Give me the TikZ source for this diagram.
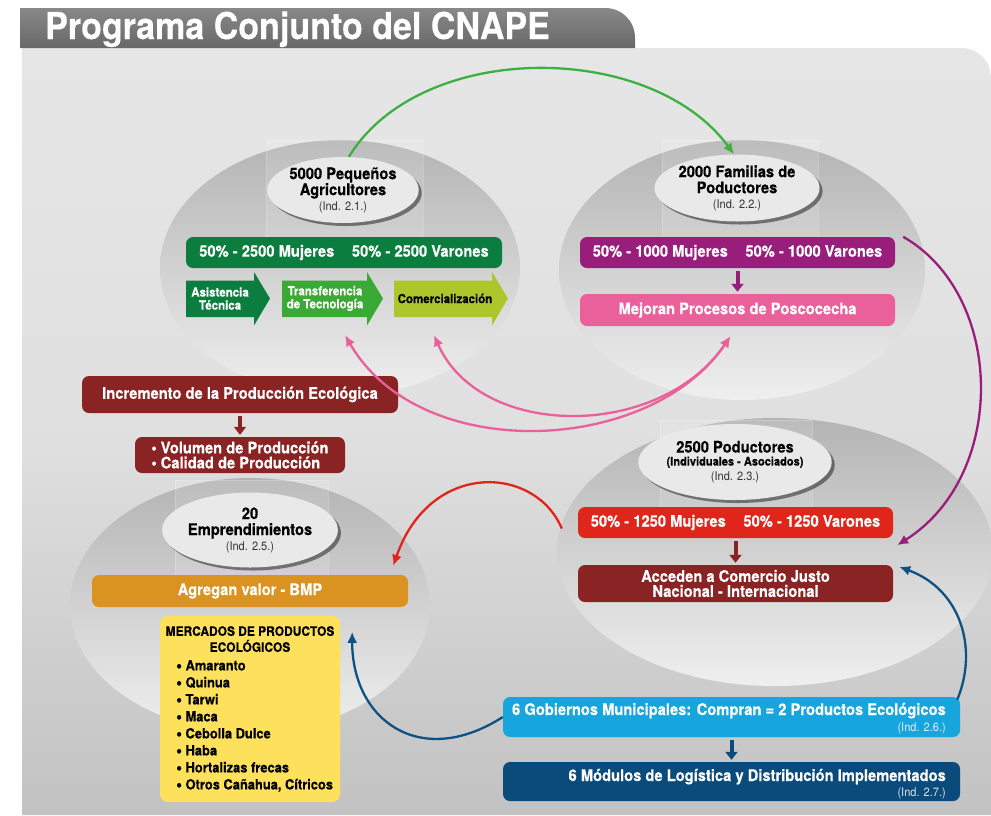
\documentclass[tikz,border=0pt]{standalone}
\usepackage{fontspec}
\setmainfont{TeX Gyre Heros}[FakeStretch=0.92, BoldFeatures={FakeBold=0.3}]
\usetikzlibrary{arrows.meta,shadows,shapes.geometric}
\definecolor{cGreenD}{HTML}{0B7D3E}
\definecolor{cGreenM}{HTML}{3BA935}
\definecolor{cLime}{HTML}{ADC62B}
\definecolor{cPurple}{HTML}{991E7C}
\definecolor{cPink}{HTML}{E9609A}
\definecolor{cDRed}{HTML}{8A2323}
\definecolor{cRed}{HTML}{E0261B}
\definecolor{cOrange}{HTML}{DA9220}
\definecolor{cYellow}{HTML}{FDE15C}
\definecolor{cLBlue}{HTML}{16A5DD}
\definecolor{cDBlue}{HTML}{0A4B7B}
\definecolor{cArcGreen}{HTML}{3DB042}
\definecolor{cArcBlue}{HTML}{0D5283}
\definecolor{cBubble}{HTML}{E9E9E9}
\definecolor{cInd}{HTML}{333333}
\definecolor{cTabTop}{HTML}{888888}
\definecolor{cTabBot}{HTML}{686868}
\definecolor{cPanTop}{HTML}{E6E6E6}
\definecolor{cPanMid}{HTML}{E0E0E0}
\definecolor{cPanBot}{HTML}{C2C2C2}
\definecolor{cEllTop}{HTML}{B4B4B4}
\definecolor{cEllBot}{HTML}{EFEFEF}
\newcommand\indf{\mdseries\fontsize{12}{13}\selectfont}
\newcommand\bul{{\fontsize{18}{15}\selectfont\raisebox{-1.3pt}{•}}}
\begin{document}
\begin{tikzpicture}[x=1pt,y=-1pt,
  box/.style={rounded corners=7pt, inner sep=0pt, align=center, text=white,
    font=\bfseries\fontsize{16}{15}\selectfont},
  btext/.style={inner sep=0pt, text=white, font=\bfseries\fontsize{16}{15}\selectfont},
  itext/.style={inner sep=0pt, font=\indf},
  bubble/.style={ellipse, fill=cBubble, inner sep=0pt, align=center,
    font=\bfseries\fontsize{16}{16}\selectfont,
    drop shadow={shadow xshift=3pt, shadow yshift=-3pt, opacity=0.45, fill=black}},
  bigell/.style={top color=cEllTop, bottom color=cEllBot},
  faint/.style={fill=white, fill opacity=0.12, draw=white, draw opacity=0.2, line width=0.4pt},
  arrlabel/.style={inner sep=0pt, align=center, font=\bfseries\fontsize{12.5}{13}\selectfont},
  arc/.style={line width=2.3pt, -{Latex[length=11pt,width=10pt]}},
  dbarc/.style={line width=2.3pt, {Latex[length=11pt,width=10pt]}-{Latex[length=11pt,width=10pt]}},
  dn/.style={line width=4pt, -{Triangle[length=8pt,width=12pt]}, shorten <=3pt, shorten >=2pt}
]
\useasboundingbox (0,0) rectangle (991,815);
% panel and title tab
\path[top color=cPanTop, bottom color=cPanBot, middle color=cPanMid]
  (22,815) -- (22,48) -- (961,48) .. controls (978,48) and (991,61) .. (991,78) -- (991,815) -- cycle;
\path[top color=cTabTop, bottom color=cTabBot]
  (20,48) -- (20,8) -- (605,8) .. controls (622,8) and (635,21) .. (635,38) -- (635,48) -- cycle;
\node[anchor=base west, inner sep=0pt, text=white, font=\bfseries\fontsize{37}{40}\selectfont] (title) at (45,39) {Programa Conjunto del CNAPE};

% big ellipses
\path[bigell] (340,268) ellipse [x radius=180, y radius=128];
\path[bigell] (742,270) ellipse [x radius=183, y radius=130];
\path[bigell] (775,552) ellipse [x radius=218, y radius=134];
\path[bigell] (250,605) ellipse [x radius=180, y radius=127];
\path[faint] (266,140) rectangle (423,237);
\path[faint] (662,140) rectangle (818,237);
\path[faint] (660,420) rectangle (812,507);
\path[faint] (175,480) rectangle (328,575);

% bubbles
\node[bubble, minimum width=146pt, minimum height=66pt] (b1) at (343,190)
  {5000 Pequeños\\Agricultores\\[-1pt]{\indf\color{cInd}(Ind. 2.1.)}};
\node[bubble, minimum width=145pt, minimum height=67pt] (b2) at (737,188)
  {2000 Familias de\\Poductores\\[-1pt]{\indf\color{cInd}(Ind. 2.2.)}};
\node[bubble, minimum width=144pt, minimum height=76pt] (b3) at (735,462)
  {2500 Poductores\\[-3pt]{\fontsize{12}{12}\selectfont (Individuales - Asociados)}\\[-1pt]{\indf\color{cInd}(Ind. 2.3.)}};
\node[bubble, minimum width=146pt, minimum height=75pt] (b4) at (250,530)
  {20\\Emprendimientos\\[-1pt]{\indf\color{cInd}(Ind. 2.5.)}};

% top-left group
\node[box, fill=cGreenD, minimum width=316pt, minimum height=31pt] (gbar) at (344,252.5)
  {50\% - 2500 Mujeres\hspace{1.1em}50\% - 2500 Varones};
\fill[cGreenD] (186,280.5) -- (254,280.5) -- (254,272) -- (270,298.5) -- (254,325.5) -- (254,317) -- (186,317) -- cycle;
\fill[cGreenM] (282,280.5) -- (367,280.5) -- (367,272) -- (383,298.5) -- (367,325.5) -- (367,317) -- (282,317) -- cycle;
\fill[cLime] (394,280.5) -- (492,280.5) -- (492,272) -- (508,298.5) -- (492,325.5) -- (492,317) -- (394,317) -- cycle;
\node[arrlabel, text=white] (asis) at (220,298.5) {Asistencia\\Técnica};
\node[arrlabel, text=white] (transf) at (325,298.5) {Transferencia\\de Tecnología};
\node[arrlabel, text=black] (comer) at (445,298.5) {Comercialización};
\coordinate (pA) at (345,335);
\coordinate (pB) at (434,335);

% top-right group
\node[box, fill=cPurple, minimum width=315pt, minimum height=31pt] (pbar) at (737.5,252.5)
  {50\% - 1000 Mujeres\hspace{1.1em}50\% - 1000 Varones};
\node[box, fill=cPink, minimum width=315pt, minimum height=32pt] (pink) at (737.5,310)
  {Mejoran Procesos de Poscocecha};
\draw[dn, cPurple] (pbar.south) -- (pink.north);

% middle-left group
\node[box, fill=cDRed, minimum width=316pt, minimum height=37pt] (incr) at (240,394.5)
  {Incremento de la Producción Ecológica};
\node[box, fill=cDRed, minimum width=210pt, minimum height=36pt, align=left] (vol) at (240,455)
  {• Volumen de Producción\\• Calidad de Producción};
\draw[dn, cDRed] (incr.south) -- (vol.north);

% middle-right group
\node[box, fill=cRed, minimum width=315pt, minimum height=31pt] (rbar) at (735.5,522.5)
  {50\% - 1250 Mujeres\hspace{1.1em}50\% - 1250 Varones};
\node[box, fill=cDRed, minimum width=315pt, minimum height=37pt] (acc) at (735.5,583.5)
  {Acceden a Comercio Justo\\Nacional - Internacional};
\draw[dn, cDRed] (rbar.south) -- (acc.north);

% bottom-left group
\node[box, fill=cOrange, minimum width=316pt, minimum height=32pt] (agr) at (250,591)
  {Agregan valor - BMP};
\node[fill=cYellow, rounded corners=8pt, minimum width=180pt, minimum height=186pt, inner sep=0pt] (merc) at (250,709) {};
\node[anchor=north, inner sep=0pt, align=center, font=\bfseries\fontsize{13}{16}\selectfont] (mtitle) at (250,626)
  {MERCADOS DE PRODUCTOS\\ECOLÓGICOS};
\node[anchor=north west, inner sep=0pt, align=left, font=\bfseries\fontsize{14}{17}\selectfont] (mlist) at (176,660)
  {\bul\ Amaranto\\\bul\ Quinua\\\bul\ Tarwi\\\bul\ Maca\\\bul\ Cebolla Dulce\\\bul\ Haba\\\bul\ Hortalizas frecas\\\bul\ Otros Cañahua, Cítricos};

% bottom-right group
\node[box, fill=cLBlue, minimum width=457pt, minimum height=40pt] (gob) at (731.5,717) {};
\node[btext, anchor=base east] (gobt) at (946,715) {6 Gobiernos Municipales: Compran = 2 Productos Ecológicos};
\node[itext, anchor=base east, text=white!85!cLBlue] (gobi) at (946,731) {(Ind. 2.6.)};
\node[box, fill=cDBlue, minimum width=457pt, minimum height=39pt] (mod) at (731.5,781.5) {};
\node[btext, anchor=base east] (modt) at (946,781) {6 Módulos de Logística y Distribución Implementados};
\node[itext, anchor=base east, text=white!85!cDBlue] (modi) at (946,796) {(Ind. 2.7.)};
\draw[dn, cDBlue] (gob.south) -- (mod.north);

% curved connectors
\draw[arc, cArcGreen] (b1.80) .. controls (420,40) and (650,40) .. (b2.95);
\draw[arc, cPurple] ([xshift=8pt]pbar.north east) .. controls (1005,295) and (1008,475) .. ([xshift=4pt,yshift=-7pt]rbar.south east);
\draw[dbarc, cPink] (pA) .. controls (420,465) and (650,455) .. ([xshift=-7pt,yshift=-10pt]pink.south);
\draw[dbarc, cPink] (pB) .. controls (480,440) and (660,440) .. ([xshift=-7pt,yshift=-10pt]pink.south);
\draw[arc, cRed] ([xshift=-16pt,yshift=-6pt]rbar.west) .. controls (535,465) and (430,460) .. ([xshift=-15pt,yshift=9pt]agr.north east);
\draw[arc, cArcBlue] (gob.west) .. controls (420,770) and (352,720) .. ([xshift=12pt,yshift=-16pt]merc.north east);
\draw[arc, cArcBlue] ([xshift=-3pt,yshift=-3pt]gob.north east) .. controls (978,650) and (962,590) .. ([xshift=6pt,yshift=-2pt]acc.north east);
\end{tikzpicture}
\end{document}
